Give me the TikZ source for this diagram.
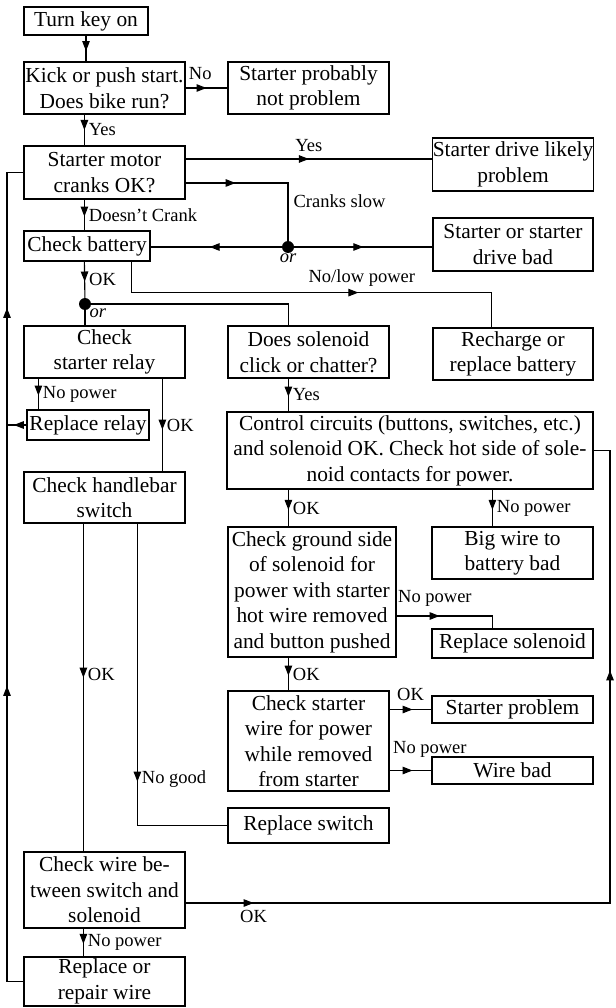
\documentclass[tikz,border=0pt]{standalone}
\usepackage{fontspec}
\setmainfont{Liberation Serif}
\usepackage{tikz}
\usetikzlibrary{arrows.meta,positioning,calc,decorations.markings}
\newcommand{\boxfont}{\fontsize{21.4}{25.5}\selectfont}
\newcommand{\lblfont}{\fontsize{18.5}{20}\selectfont}

\begin{document}
\begin{tikzpicture}[x=1pt,y=-1pt,
  box/.style={draw,line width=1.2pt,inner sep=0pt,align=center,font=\boxfont},
  lbl/.style={font=\lblfont,inner sep=1pt},
  orlbl/.style={font=\lblfont\itshape,inner sep=0pt},
  dot/.style={circle,fill,inner sep=0pt,minimum size=12pt},
  wire/.style={line width=1.1pt},
  midarr/.style={postaction={decorate,decoration={markings,
      mark=at position #1 with {\arrow{Triangle[length=10pt,width=7.5pt]}}}}}]
  \useasboundingbox (0,0) rectangle (615,1008);
  % left column
  \node[box,minimum width=124,minimum height=28] (key) at (86,21) {Turn key on};
  \node[box,minimum width=161,minimum height=52] (kick) at (104.5,88) {Kick or push start.\\Does bike run?};
  \node[box,minimum width=161,minimum height=53] (motor) at (104.5,172.5) {Starter motor\\cranks OK?};
  \node[box,minimum width=126,minimum height=30] (batt) at (87,246) {Check battery};
  \node[box,minimum width=161,minimum height=52] (relay) at (104.5,352) {Check\\starter relay};
  \node[box,minimum width=122,minimum height=30] (rrelay) at (88,425) {Replace relay};
  \node[box,minimum width=161,minimum height=51] (hbar) at (104.5,497.5) {Check handlebar\\switch};
  \node[box,minimum width=161,minimum height=76] (cwire) at (104.5,890) {Check wire be-\\tween switch and\\solenoid};
  \node[box,minimum width=161,minimum height=49] (repair) at (104.5,981.5) {Replace or\\repair wire};
  % middle column
  \node[box,minimum width=161,minimum height=52] (notprob) at (308.5,88) {Starter probably\\not problem};
  \node[box,minimum width=161,minimum height=52] (sol) at (308.5,352) {Does solenoid\\click or chatter?};
  \node[box,minimum width=366,minimum height=77] (ctrl) at (410,450.5) {Control circuits (buttons, switches, etc.)\\and solenoid OK. Check hot side of sole-\\noid contacts for power.};
  \node[box,minimum width=168,minimum height=130] (gnd) at (312,592) {Check ground side\\of solenoid for\\power with starter\\hot wire removed\\and button pushed};
  \node[box,minimum width=161,minimum height=100] (cstart) at (308.5,741) {Check starter\\wire for power\\while removed\\from starter};
  \node[box,minimum width=161,minimum height=35] (rsw) at (308.5,825.5) {Replace switch};
  % right column
  \node[box,minimum width=160,minimum height=53] (drive) at (513,164.5) {Starter drive likely\\problem};
  \node[box,minimum width=160,minimum height=53] (sbad) at (513,244.5) {Starter or starter\\drive bad};
  \node[box,minimum width=160,minimum height=52] (rechg) at (513,354) {Recharge or\\replace battery};
  \node[box,minimum width=161,minimum height=52] (bigw) at (512.5,553) {Big wire to\\battery bad};
  \node[box,minimum width=161,minimum height=29] (rsol) at (512.5,643.5) {Replace solenoid};
  \node[box,minimum width=161,minimum height=27] (sprob) at (512.5,709.5) {Starter problem};
  \node[box,minimum width=161,minimum height=27] (wbad) at (512.5,770.5) {Wire bad};
  % junctions and rails
  \node[dot,label={[orlbl]below:or}] (dot1) at (288,247) {};
  \node[dot,label={[orlbl]below right:or}] (dot2) at (85,304) {};
  \coordinate (lrail) at (7,0);
  \coordinate (rrail) at (610,0);
  % connectors
  \draw[wire,midarr=0.6] (key.south) -- (key.south |- kick.north);
  \draw[wire,midarr=0.5] (kick.east) -- (notprob.west) node[lbl,pos=0.35,above=7pt] {No};
  \draw[wire,midarr=0.5] ([xshift=61]kick.south west) -- ([xshift=61]motor.north west)
    node[lbl,midway,right=3pt] {Yes};
  \draw[wire,midarr=0.5] ([yshift=13.5]motor.east) -- ([yshift=13.5]motor.east -| drive.west)
    node[lbl,midway,above=6pt] {Yes};
  \draw[wire,midarr=50pt] ([yshift=-10.5]motor.east) -| (dot1)
    node[lbl,pos=0.66,right=4pt] {Cranks slow};
  \draw[wire,midarr=0.5] (dot1) -- (dot1 -| sbad.west);
  \draw[wire,midarr=0.55] (dot1) -- (dot1 -| batt.east);
  \draw[wire,midarr=0.55] ([xshift=61]motor.south west) -- ([xshift=61]batt.north west)
    node[lbl,midway,right=3pt] {Doesn't Crank};
  \draw[wire,midarr=0.55] ([xshift=61]batt.south west) -- (dot2)
    node[lbl,midway,right=3pt] {OK};
  \draw[wire,midarr=258pt] ([xshift=108]batt.south west) -- ++(0,31) -| ([xshift=59]rechg.north west)
    node[lbl,pos=0.32,above=5pt] {No/low power};
  \draw[wire] (dot2) -- (dot2 |- relay.north);
  \draw[wire] (dot2) -| ([xshift=61]sol.north west);
  \draw[wire,midarr=0.55] ([xshift=15]relay.south west) -- ([xshift=15]relay.south west |- rrelay.north)
    node[lbl,midway,right=3pt] {No power};
  \draw[wire,midarr=0.55] ([xshift=139]relay.south west) -- ([xshift=139]relay.south west |- hbar.north)
    node[lbl,midway,right=3pt] {OK};
  \draw[wire,midarr=0.65] (rrelay.west) -- (rrelay.west -| lrail);
  \draw[wire,midarr=312pt,midarr=690pt] (repair.west) -- (repair.west -| lrail) |- (motor.west);
  \draw[wire,midarr=0.55] ([xshift=61]sol.south west) -- ([xshift=61]sol.south west |- ctrl.north)
    node[lbl,midway,right=3pt] {Yes};
  \draw[wire,midarr=0.55] ([xshift=62]ctrl.south west) -- ([xshift=62]ctrl.south west |- gnd.north)
    node[lbl,midway,right=3pt] {OK};
  \draw[wire,midarr=0.55] ([xshift=61]bigw.north west |- ctrl.south) -- ([xshift=61]bigw.north west)
    node[lbl,midway,right=3pt] {No power};
  \draw[wire,midarr=43pt] ([yshift=-24]gnd.east) -| ([xshift=61]rsol.north west)
    node[lbl,pos=0.2,above=8pt] {No power};
  \draw[wire,midarr=0.55] ([xshift=61]gnd.south west) -- ([xshift=61]gnd.south west |- cstart.north)
    node[lbl,midway,right=3pt] {OK};
  \draw[wire,midarr=0.55] (sprob.west -| cstart.east) -- (sprob.west)
    node[lbl,midway,above=7pt] {OK};
  \draw[wire,midarr=0.55] (wbad.west -| cstart.east) -- (wbad.west)
    node[lbl,pos=0,above right={12pt and 2pt}] {No power};
  \draw[wire,midarr=258pt] ([xshift=114]hbar.south west) |- (rsw.west)
    node[lbl,pos=0.423,right=3pt] {No good};
  \draw[wire,midarr=0.47] ([xshift=60]hbar.south west) -- ([xshift=60]hbar.south west |- cwire.north)
    node[lbl,pos=0.46,right=3pt] {OK};
  \draw[wire,midarr=68pt,midarr=657pt] ([yshift=-13]cwire.east)
    -| node[lbl,pos=0.08,below=6pt] {OK} (rrail |- ctrl.east) -- (ctrl.east);
  \draw[wire,midarr=0.55] ([xshift=60]cwire.south west) -- ([xshift=60]cwire.south west |- repair.north)
    node[lbl,midway,right=3pt] {No power};
\end{tikzpicture}
\end{document}
